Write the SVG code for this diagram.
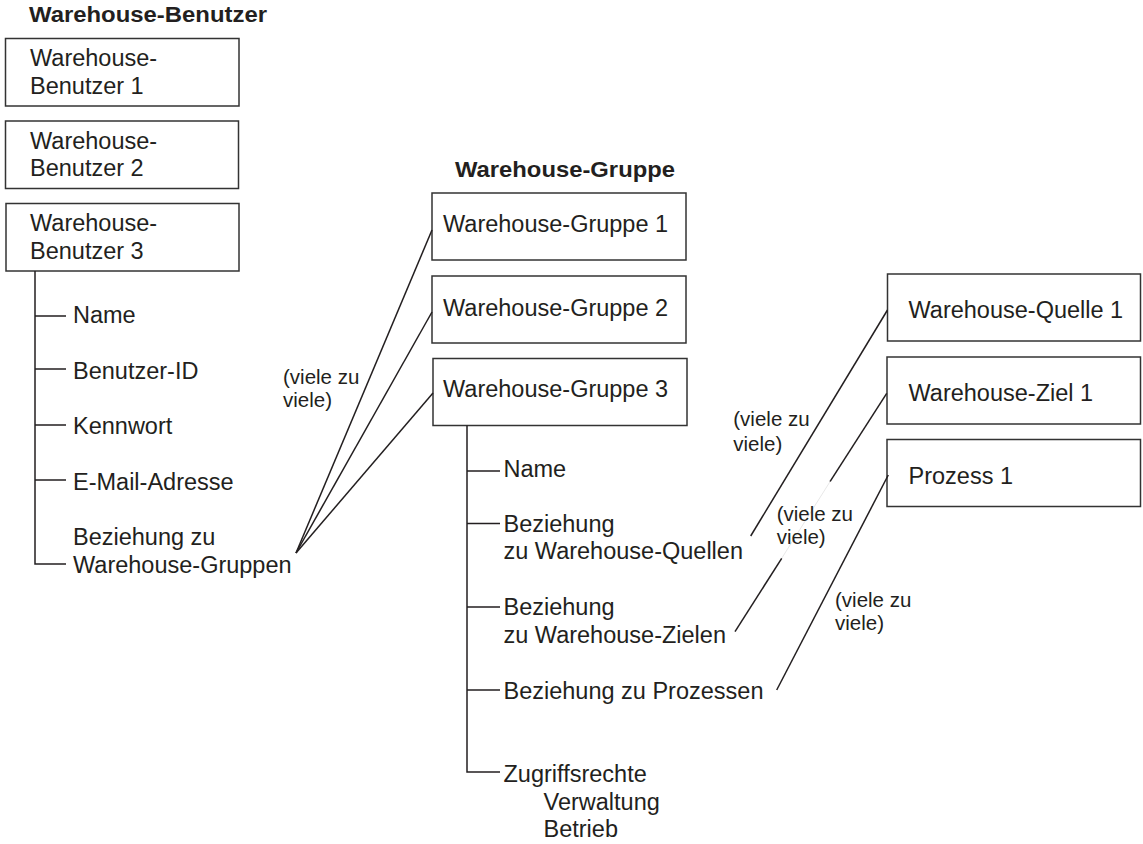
<svg xmlns="http://www.w3.org/2000/svg" width="1143" height="844" viewBox="0 0 1143 844">
  <style>
    .bg { fill: #ffffff; }
    .box { fill: #ffffff; stroke: #333333; stroke-width: 1.5; }
    .t { font-family: "Liberation Sans", Arial, Helvetica, sans-serif; font-size: 23.5px; fill: #231f20; }
    .title { font-family: "Liberation Sans", Arial, Helvetica, sans-serif; font-size: 21.5px; font-weight: bold; fill: #231f20; }
    .lbl { font-family: "Liberation Sans", Arial, Helvetica, sans-serif; font-size: 20.5px; fill: #231f20; }
    .ln { fill: none; stroke: #231f20; stroke-width: 1.5; }
    .faint { fill: none; stroke: #e8e8e8; stroke-width: 1; }
  </style>

  <rect class="bg" x="0" y="0" width="1143" height="844"/>

  <!-- column headings -->
  <text class="title" x="29" y="22" textLength="238" lengthAdjust="spacingAndGlyphs">Warehouse-Benutzer</text>
  <text class="title" x="455" y="176.5" textLength="220" lengthAdjust="spacingAndGlyphs">Warehouse-Gruppe</text>

  <!-- user nodes -->
  <g id="benutzer1">
    <rect class="box" x="5.5" y="38.5" width="233.5" height="67.5"/>
    <text class="t" x="30" y="66">Warehouse-</text>
    <text class="t" x="30" y="94">Benutzer 1</text>
  </g>
  <g id="benutzer2">
    <rect class="box" x="5.5" y="121" width="233" height="67.5"/>
    <text class="t" x="30" y="148.5">Warehouse-</text>
    <text class="t" x="30" y="176">Benutzer 2</text>
  </g>
  <g id="benutzer3">
    <rect class="box" x="6" y="203.5" width="233" height="67.5"/>
    <text class="t" x="30" y="231">Warehouse-</text>
    <text class="t" x="30" y="259">Benutzer 3</text>
  </g>

  <!-- attributes of user 3 -->
  <g id="benutzer3-attribute">
    <path class="ln" d="M35 271 V564 H66 M35 316 H66 M35 369 H66 M35 425 H66 M35 480 H66"/>
    <text class="t" x="73" y="322.5">Name</text>
    <text class="t" x="73" y="379">Benutzer-ID</text>
    <text class="t" x="73" y="433.5">Kennwort</text>
    <text class="t" x="73" y="489.5">E-Mail-Adresse</text>
    <text class="t" x="73" y="545">Beziehung zu</text>
    <text class="t" x="73" y="572.5">Warehouse-Gruppen</text>
  </g>

  <!-- group nodes -->
  <g id="gruppe1">
    <rect class="box" x="432" y="193" width="254" height="67"/>
    <text class="t" x="443" y="231.5">Warehouse-Gruppe 1</text>
  </g>
  <g id="gruppe2">
    <rect class="box" x="432" y="276" width="254" height="67"/>
    <text class="t" x="443" y="315.5">Warehouse-Gruppe 2</text>
  </g>
  <g id="gruppe3">
    <rect class="box" x="433" y="358.5" width="254" height="67"/>
    <text class="t" x="443" y="397">Warehouse-Gruppe 3</text>
  </g>

  <!-- attributes of group 3 -->
  <g id="gruppe3-attribute">
    <path class="ln" d="M467 425.5 V772 H500 M467 471 H500 M467 523.5 H500 M467 607 H500 M467 690 H500"/>
    <text class="t" x="503.5" y="477">Name</text>
    <text class="t" x="503.5" y="531.5">Beziehung</text>
    <text class="t" x="503.5" y="559">zu Warehouse-Quellen</text>
    <text class="t" x="503.5" y="615">Beziehung</text>
    <text class="t" x="503.5" y="642.5">zu Warehouse-Zielen</text>
    <text class="t" x="503.5" y="698.5">Beziehung zu Prozessen</text>
    <text class="t" x="503.5" y="782">Zugriffsrechte</text>
    <text class="t" x="543.5" y="809.5">Verwaltung</text>
    <text class="t" x="543.5" y="837">Betrieb</text>
  </g>

  <!-- source, target and process nodes -->
  <g id="quelle1">
    <rect class="box" x="887.5" y="274" width="253" height="67"/>
    <text class="t" x="908.5" y="318">Warehouse-Quelle 1</text>
  </g>
  <g id="ziel1">
    <rect class="box" x="887" y="357" width="253.5" height="67"/>
    <text class="t" x="908.5" y="400.5">Warehouse-Ziel 1</text>
  </g>
  <g id="prozess1">
    <rect class="box" x="887" y="439.5" width="253.5" height="67"/>
    <text class="t" x="908.5" y="483.5">Prozess 1</text>
  </g>

  <!-- many-to-many relations -->
  <g id="connectors">
    <line class="ln" x1="296" y1="553" x2="432" y2="230"/>
    <line class="ln" x1="296" y1="553" x2="432" y2="312"/>
    <line class="ln" x1="296" y1="553" x2="433" y2="393"/>

    <line class="ln" x1="750.7" y1="536" x2="887.5" y2="310"/>

    <line class="ln" x1="886.7" y1="393.3" x2="830" y2="481.7"/>
    <line class="faint" x1="830" y1="481.7" x2="781.7" y2="558.3"/>
    <line class="ln" x1="781.7" y1="558.3" x2="735" y2="631.7"/>

    <line class="ln" x1="776.7" y1="690" x2="888.3" y2="475"/>
  </g>

  <!-- cardinality labels -->
  <g id="kardinalitaet">
    <text class="lbl" x="283" y="383.5">(viele zu</text>
    <text class="lbl" x="283" y="406.5">viele)</text>
    <text class="lbl" x="733.3" y="426">(viele zu</text>
    <text class="lbl" x="733.3" y="450.5">viele)</text>
    <text class="lbl" x="776.7" y="520.7">(viele zu</text>
    <text class="lbl" x="776.7" y="544">viele)</text>
    <text class="lbl" x="835" y="607.3">(viele zu</text>
    <text class="lbl" x="835" y="630">viele)</text>
  </g>
</svg>
